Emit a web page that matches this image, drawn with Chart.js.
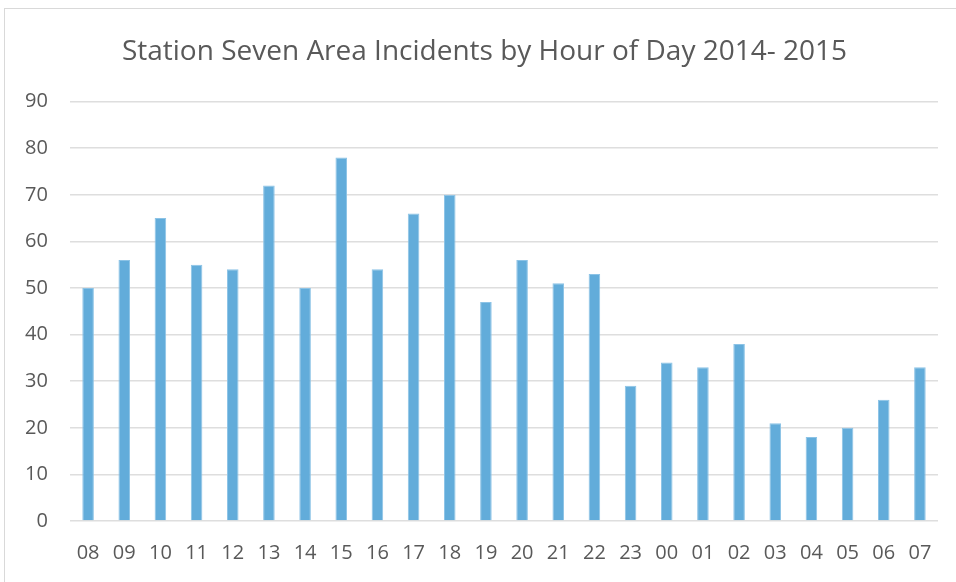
<!DOCTYPE html>
<html>
<head>
<meta charset="utf-8">
<script src="https://cdn.jsdelivr.net/npm/chart.js@4"></script>
<style>
  html, body { margin: 0; padding: 0; background: #fff; overflow: hidden; }
  .frame {
    position: absolute; left: 4px; top: 8px; width: 970px; height: 590px;
    border: 1px solid #d9d9d9; box-sizing: border-box;
  }
  .chart-container { position: absolute; left: 0; top: 0; width: 956px; height: 582px; }
</style>
</head>
<body>
<div class="frame"></div>
<div class="chart-container">
  <canvas id="myChart" width="956" height="582"></canvas>
</div>
<script>
const hours = ['08', '09', '10', '11', '12', '13', '14', '15', '16', '17', '18', '19',
  '20', '21', '22', '23', '00', '01', '02', '03', '04', '05', '06', '07'];
const incidents = [50, 56, 65, 55, 54, 72, 50, 78, 54, 66, 70, 47,
  56, 51, 53, 29, 34, 33, 38, 21, 18, 20, 26, 33];
const yTicks = [0, 10, 20, 30, 40, 50, 60, 70, 80, 90];

const textColor = '#595959';
const fontFamily = "'Open Sans', 'Liberation Sans', sans-serif";

new Chart(document.getElementById('myChart').getContext('2d'), {
  type: 'bar',
  data: {
    labels: hours,
    datasets: [
      {
        label: 'Incidents',
        data: incidents,
        backgroundColor: '#62acda',
        borderColor: '#8cc3e6',
        borderWidth: { top: 1, left: 1, right: 1, bottom: 0 },
        barPercentage: 0.32,
        categoryPercentage: 1.0,
      },
    ],
  },
  options: {
    responsive: false,
    animation: false,
    // left padding keeps the title centred like the original
    layout: { padding: { top: 0, right: 18, bottom: 0, left: 31 } },
    plugins: {
      legend: { display: false },
      tooltip: { enabled: false },
      title: {
        display: true,
        text: 'Station Seven Area Incidents by Hour of Day 2014- 2015',
        color: textColor,
        font: { family: fontFamily, size: 28, weight: 'normal' },
        padding: { top: 35, bottom: 33 },
      },
    },
    scales: {
      x: {
        grid: { display: false, drawTicks: false },
        border: { display: false },
        ticks: {
          color: textColor,
          font: { family: fontFamily, size: 20 },
          padding: 20,
          maxRotation: 0,
          autoSkip: false,
        },
        afterFit: (scale) => { scale.height = 61; },
      },
      y: {
        min: 0,
        max: 90,
        afterBuildTicks: (scale) => { scale.ticks = yTicks.map((v) => ({ value: v })); },
        grid: { color: '#dedede', lineWidth: 1.5, drawTicks: false },
        border: { display: false },
        // mirrored so the labels are not clipped to the narrow axis box
        ticks: {
          color: textColor,
          font: { family: fontFamily, size: 20 },
          mirror: true,
          crossAlign: 'far',
          padding: -45,
        },
        afterFit: (scale) => { scale.width = 39; },
      },
    },
  },
});
</script>
</body>
</html>
